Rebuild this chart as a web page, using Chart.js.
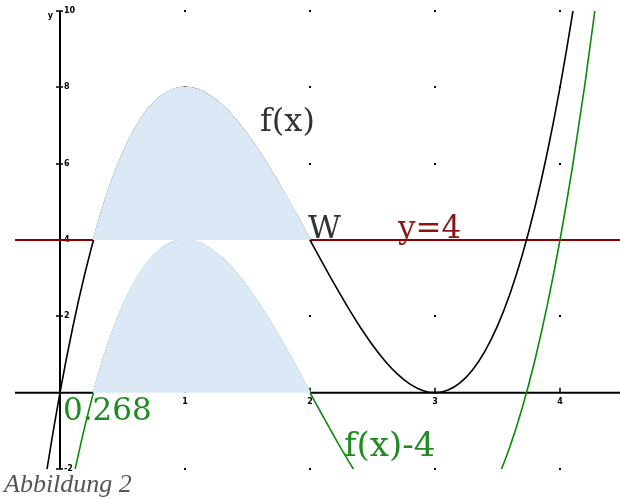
<!DOCTYPE html>
<html>
<head>
<meta charset="utf-8">
<script src="https://cdn.jsdelivr.net/npm/chart.js@4/dist/chart.umd.min.js"></script>
<style>
html,body{margin:0;padding:0;background:#fff;}
#wrap{width:620px;height:499px;position:relative;}
</style>
</head>
<body>
<div id="wrap"><canvas id="c" width="620" height="499"></canvas></div>
<script>
// f(x)
const fX = [-0.2,-0.1,0,0.1,0.2,0.3,0.4,0.5,0.6,0.7,0.8,0.9,1.0,1.1,1.2,1.3,1.4,1.5,1.6,1.7,1.8,1.9,2.0,2.1,2.2,2.3,2.4,2.5,2.6,2.7,2.8,2.9,3.0,3.1,3.2,3.3,3.4,3.5,3.6,3.7,3.8,3.9,4.0,4.1,4.2];
const fY = [-4.096,-1.922,0,1.682,3.136,4.374,5.408,6.25,6.912,7.406,7.744,7.938,8,7.942,7.776,7.514,7.168,6.75,6.272,5.746,5.184,4.598,4,3.402,2.816,2.254,1.728,1.25,0.832,0.486,0.224,0.058,0,0.062,0.256,0.594,1.088,1.75,2.592,3.626,4.864,6.318,8,9.922,12.096];
// f(x)-4
const gX = [0.1,0.2,0.3,0.4,0.5,0.6,0.7,0.8,0.9,1.0,1.1,1.2,1.3,1.4,1.5,1.6,1.7,1.8,1.9,2.0,2.1,2.2,2.3,2.4,2.5,2.6,2.7,2.8,2.9,3.0,3.1,3.2,3.3,3.4,3.5,3.6,3.7,3.8,3.9,4.0,4.1,4.2,4.3];
const gY = [-2.318,-0.864,0.374,1.408,2.25,2.912,3.406,3.744,3.938,4,3.942,3.776,3.514,3.168,2.75,2.272,1.746,1.184,0.598,0,-0.598,-1.184,-1.746,-2.272,-2.75,-3.168,-3.514,-3.776,-3.942,-4,-3.938,-3.744,-3.406,-2.912,-2.25,-1.408,-0.374,0.864,2.318,4,5.922,8.096,10.534];
// shaded areas between x = 0.268 and x = 2
const shadeX = [0.268,0.3,0.4,0.5,0.6,0.7,0.8,0.9,1.0,1.1,1.2,1.3,1.4,1.5,1.6,1.7,1.8,1.9,2.0];
const shadeTop = [4.0,4.374,5.408,6.25,6.912,7.406,7.744,7.938,8,7.942,7.776,7.514,7.168,6.75,6.272,5.746,5.184,4.598,4];
const shadeBottom = [0,0.374,1.408,2.25,2.912,3.406,3.744,3.938,4,3.942,3.776,3.514,3.168,2.75,2.272,1.746,1.184,0.598,0];
const lineLevel = 4;
const xTicks = [1,2,3,4];
const yTicks = [-2,2,4,6,8,10];
const xTickLabels = ['1','2','3','4'];
const yTickLabels = ['-2','2','4','6','8','10'];
const X_MIN = -0.36, X_MAX = 4.48, Y_MIN = -2, Y_MAX = 10;
const SHADE_FROM = shadeX[0], SHADE_TO = shadeX[shadeX.length - 1];

const zip = (xs, ys) => xs.map((x, i) => ({x: x, y: ys[i]}));
const FILL = '#dbe9f7';

const axesPlugin = {
  id: 'axesPlugin',
  beforeDatasetsDraw(chart) {
    const {ctx, scales: {x, y}, chartArea: a} = chart;
    ctx.save();
    // grid dots
    ctx.fillStyle = '#000';
    xTicks.forEach(tx => {
      yTicks.forEach(ty => {
        ctx.fillRect(Math.round(x.getPixelForValue(tx)) - 1, Math.round(y.getPixelForValue(ty)) - 1, 2, 2);
      });
    });
    const x0 = x.getPixelForValue(0), y0 = y.getPixelForValue(0);
    ctx.strokeStyle = '#000';
    ctx.lineWidth = 2;
    ctx.beginPath();
    ctx.moveTo(a.left, y0); ctx.lineTo(x.getPixelForValue(SHADE_FROM), y0);
    ctx.moveTo(x.getPixelForValue(SHADE_TO), y0); ctx.lineTo(a.right, y0);
    ctx.moveTo(x0, a.top); ctx.lineTo(x0, a.bottom);
    ctx.stroke();
    // ticks
    ctx.lineWidth = 1.5;
    ctx.beginPath();
    yTicks.forEach(t => { const py = Math.round(y.getPixelForValue(t)); ctx.moveTo(x0 - 4, py); ctx.lineTo(x0 + 3, py); });
    xTicks.forEach(t => { const px = Math.round(x.getPixelForValue(t)); ctx.moveTo(px, y0 - 5); ctx.lineTo(px, y0); });
    ctx.stroke();
    ctx.font = 'bold 8px "DejaVu Sans"';
    ctx.fillStyle = '#000';
    ctx.textBaseline = 'middle';
    ctx.textAlign = 'left';
    yTicks.forEach((t, i) => ctx.fillText(yTickLabels[i], x0 + 4, y.getPixelForValue(t)));
    ctx.textAlign = 'center';
    ctx.textBaseline = 'top';
    xTicks.forEach((t, i) => ctx.fillText(xTickLabels[i], x.getPixelForValue(t), y0 + 5));
    ctx.textAlign = 'right';
    ctx.textBaseline = 'middle';
    ctx.fillText('y', x0 - 7, a.top + 5);
    ctx.restore();
  },
  afterDraw(chart) {
    const {ctx} = chart;
    ctx.save();
    ctx.textBaseline = 'alphabetic';
    ctx.textAlign = 'left';
    ctx.font = '32px "DejaVu Serif"';
    ctx.fillStyle = '#333';
    ctx.fillText('f(x)', 260, 131);
    ctx.fillText('W', 308, 238);
    ctx.fillStyle = '#8b1515';
    ctx.font = '31px "DejaVu Serif"';
    ctx.fillText('y=4', 398, 238);
    ctx.fillStyle = '#1f8a1f';
    ctx.font = '31px "DejaVu Serif"';
    ctx.fillText('0.268', 63, 420);
    ctx.font = '34px "DejaVu Serif"';
    ctx.fillText('f(x)-4', 344, 456);
    ctx.fillStyle = '#555';
    ctx.font = 'italic 26px "Liberation Serif"';
    ctx.fillText('Abbildung 2', 4, 492);
    ctx.restore();
  }
};

new Chart(document.getElementById('c'), {
  type: 'line',
  data: {
    datasets: [
      {data: zip(shadeX, shadeTop), borderWidth: 1.8, borderColor: FILL, backgroundColor: FILL, fill: {value: lineLevel}, pointRadius: 0, cubicInterpolationMode: 'monotone', order: 0},
      {data: zip(shadeX, shadeBottom), borderWidth: 1.8, borderColor: FILL, backgroundColor: FILL, fill: {value: 0}, pointRadius: 0, cubicInterpolationMode: 'monotone', order: 0},
      {data: zip(fX, fY), borderColor: '#000', borderWidth: 1.6, pointRadius: 0, fill: false, cubicInterpolationMode: 'monotone', order: 3},
      {data: zip(gX, gY), borderColor: '#0a8a0a', borderWidth: 1.6, pointRadius: 0, fill: false, cubicInterpolationMode: 'monotone', order: 3},
      {data: [{x: X_MIN, y: lineLevel}, {x: SHADE_FROM, y: lineLevel}, {x: 1, y: null}, {x: SHADE_TO, y: lineLevel}, {x: X_MAX, y: lineLevel}], borderColor: '#8b0000', borderWidth: 2, pointRadius: 0, fill: false, spanGaps: false, order: 4}
    ]
  },
  options: {
    responsive: false,
    animation: false,
    layout: {padding: {left: 15, right: 0, top: 11, bottom: 30}},
    plugins: {legend: {display: false}, tooltip: {enabled: false}},
    scales: {
      x: {type: 'linear', min: X_MIN, max: X_MAX, display: false},
      y: {type: 'linear', min: Y_MIN, max: Y_MAX, display: false}
    }
  },
  plugins: [axesPlugin]
});
</script>
</body>
</html>
